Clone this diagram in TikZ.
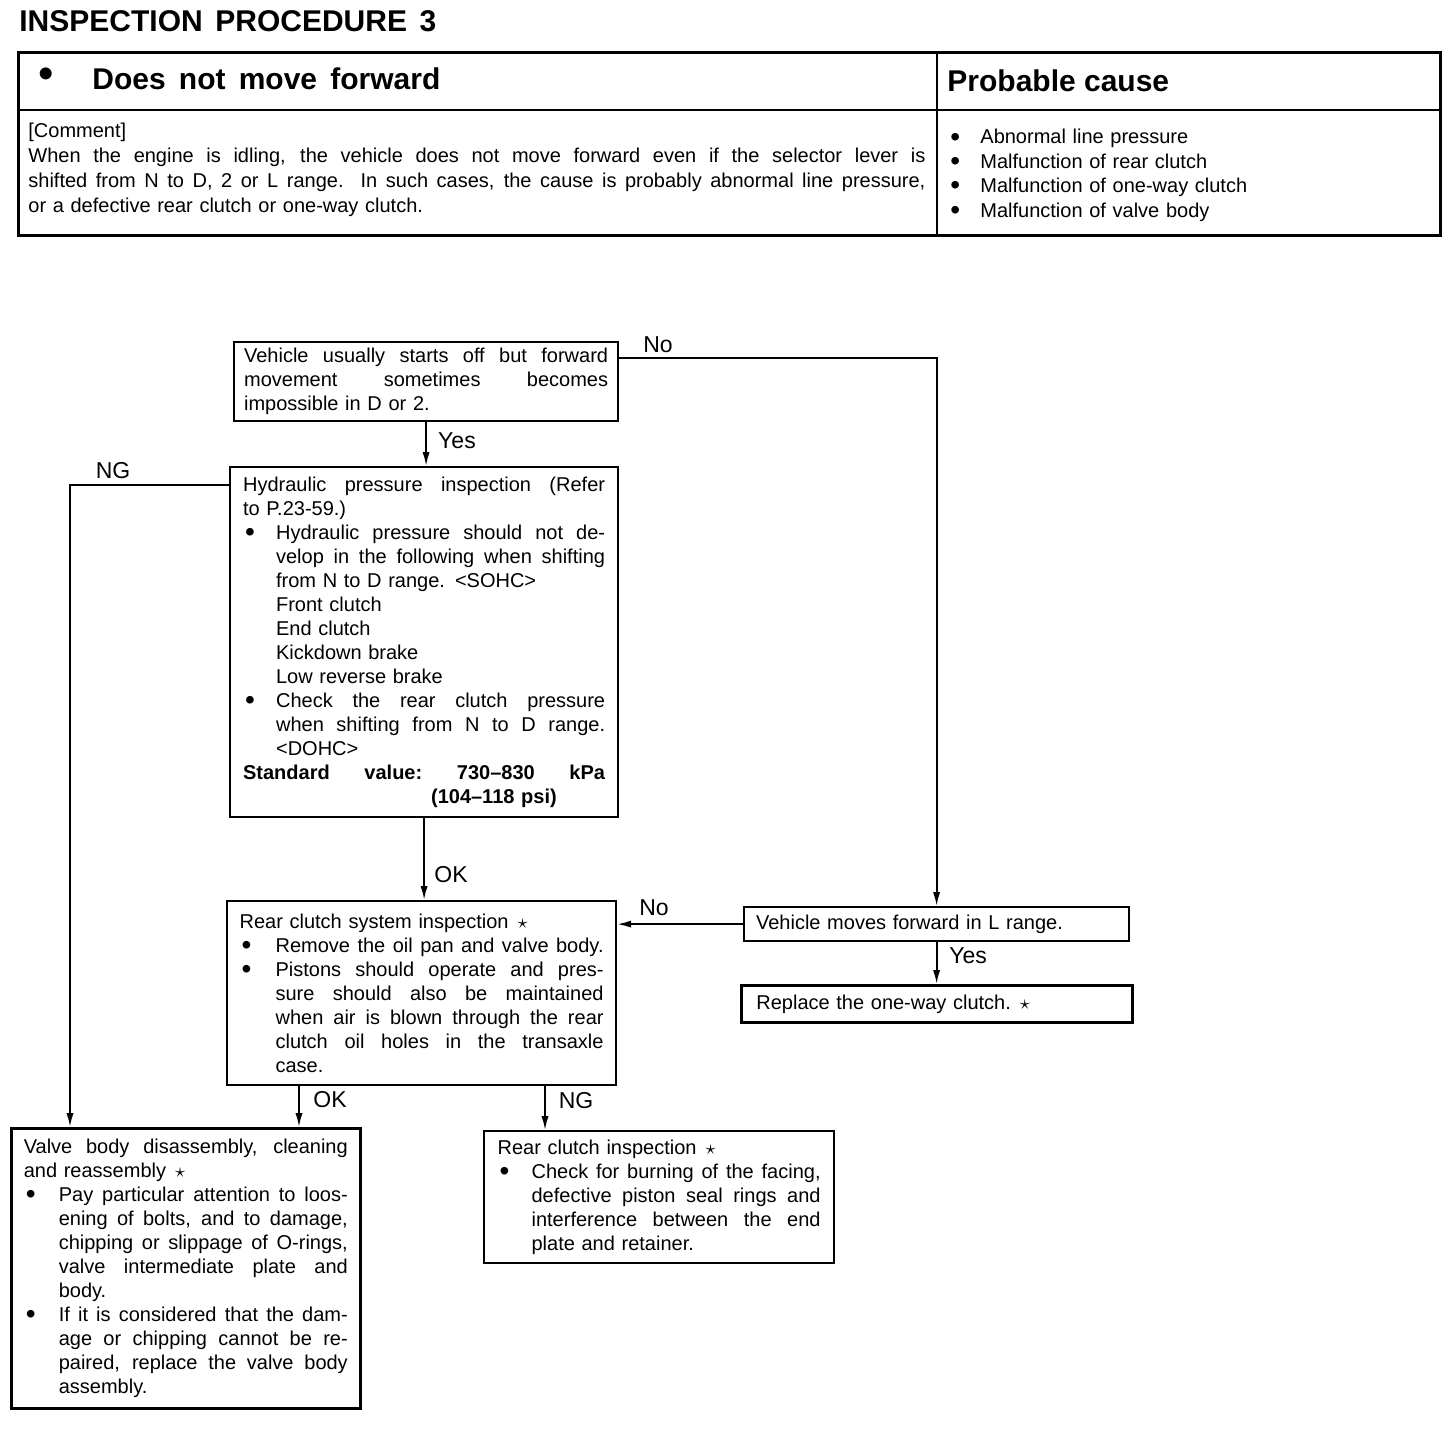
\documentclass[tikz,border=0pt]{standalone}
\usepackage{fontspec}
\setmainfont{Liberation Sans}
\usetikzlibrary{arrows.meta,calc}

\newlength\bind
\newlength\boff
\newlength\tw
\setlength\boff{1pt}
\newcommand\sk{\spaceskip=0.278em plus 1fil\relax\xspaceskip=0.278em plus 1fil\relax}
\newcommand\bul{\smash{\raisebox{-1.1pt}{\fontsize{14}{10}\selectfont\textbullet}}}
\newcommand\lnJ[1]{\noindent{\sk\makebox[\tw][s]{#1}}\par}
\newcommand\lnL[1]{\noindent#1\par}
\newcommand\bJ[1]{\noindent\makebox[\bind][l]{\hspace*{\boff}\bul}{\sk\makebox[\dimexpr\tw-\bind\relax][s]{#1}}\par}
\newcommand\bL[1]{\noindent\makebox[\bind][l]{\hspace*{\boff}\bul}#1\par}
\newcommand\iJ[1]{\noindent\hspace*{\bind}{\sk\makebox[\dimexpr\tw-\bind\relax][s]{#1}}\par}
\newcommand\iL[1]{\noindent\hspace*{\bind}#1\par}
\newcommand\stt{\hspace{4.5pt}$\star$}

\tikzset{
  box/.style={draw, line width=1.1pt, anchor=north west, inner ysep=0pt,
    font=\fontsize{10}{12}\selectfont},
  lab/.style={font=\fontsize{11.5}{13}\selectfont, inner sep=0pt},
  conn/.style={line width=0.9pt, -{Latex[length=7pt,width=3.6pt]}},
  tbl/.style={line width=1.5pt},
}

\begin{document}
\begin{tikzpicture}[x=0.5pt,y=-0.5pt]
\fill[white] (0,0) rectangle (1456,1436);
\useasboundingbox (0,0) rectangle (1456,1436);

% ---- title
\node[anchor=base west, inner sep=0pt, font=\fontsize{15}{18}\selectfont\bfseries] (title) at (19,31)
  {\makebox[208.5pt][s]{INSPECTION PROCEDURE 3}};

% ---- table
\draw[tbl] (18,52) rectangle (1440,235);
\draw[line width=1.2pt] (18,110) -- (1440,110);
\draw[line width=1.2pt] (937,52) -- (937,235);
\node[inner sep=0pt, font=\fontsize{22}{24}\selectfont] (hbul) at (46,78) {\textbullet};
\node[anchor=base west, inner sep=0pt, font=\fontsize{15}{18}\selectfont\bfseries] (hdr) at (92,89)
  {\makebox[174pt][s]{Does not move forward}};
\node[anchor=base west, inner sep=0pt, font=\fontsize{15}{18}\selectfont\bfseries] (pc) at (947,91)
  {Probable cause};
\node[anchor=north west, inner sep=0pt, text width=448.5pt, font=\fontsize{10}{12.5}\selectfont] (cmt) at (28,123)
  {\setlength\tw{448.5pt}%
   \lnL{[Comment]}
   \lnJ{When the engine is idling, the vehicle does not move forward even if the selector lever is}
   \lnJ{shifted from N to D, 2 or L range.\ \ In such cases, the cause is probably abnormal line pressure,}
   \lnL{or a defective rear clutch or one-way clutch.}};
\node[anchor=north west, inner sep=0pt, text width=240pt, font=\fontsize{10}{12.2}\selectfont] (causes) at (950,129)
  {\setlength\bind{15pt}\setlength\boff{0pt}%
   \bL{Abnormal line pressure}
   \bL{Malfunction of rear clutch}
   \bL{Malfunction of one-way clutch}
   \bL{Malfunction of valve body}};

% ---- boxes
\node[box, minimum width=192pt, minimum height=39.5pt, text width=182pt, inner xsep=5pt] (A) at (233,341)
  {\setlength\tw{182pt}%
   \lnJ{Vehicle usually starts off but forward}
   \lnJ{movement sometimes becomes}
   \lnL{impossible in D or 2.}};

\node[box, minimum width=194pt, minimum height=175pt, text width=181pt, inner xsep=6.5pt] (B) at (229,466)
  {\setlength\tw{181pt}\setlength\bind{16.5pt}%
   \lnJ{Hydraulic pressure inspection (Refer}
   \lnL{to P.23-59.)}
   \bJ{Hydraulic pressure should not de-}
   \iJ{velop in the following when shifting}
   \iL{from N to D range. <SOHC>}
   \iL{Front clutch}
   \iL{End clutch}
   \iL{Kickdown brake}
   \iL{Low reverse brake}
   \bJ{Check the rear clutch pressure}
   \iJ{when shifting from N to D range.}
   \iL{<DOHC>}
   \lnJ{\bfseries Standard value: 730–830 kPa}
   \lnL{\bfseries\hspace*{94pt}(104–118 psi)}};

\node[box, minimum width=194.5pt, minimum height=92pt, text width=182pt, inner xsep=6.25pt] (C) at (226,900)
  {\setlength\tw{182pt}\setlength\bind{18pt}%
   \lnL{Rear clutch system inspection\stt}
   \bJ{Remove the oil pan and valve body.}
   \bJ{Pistons should operate and pres-}
   \iJ{sure should also be maintained}
   \iJ{when air is blown through the rear}
   \iJ{clutch oil holes in the transaxle}
   \iL{case.}};

\node[box, minimum width=192.5pt, minimum height=17pt, text width=180.5pt, inner xsep=6pt] (D) at (743,906)
  {\lnL{Vehicle moves forward in L range.}};

\node[box, line width=1.4pt, minimum width=195.5pt, minimum height=18.5pt, text width=180.5pt, inner xsep=7.5pt] (E) at (740,984)
  {\lnL{Replace the one-way clutch.\stt}};

\node[box, line width=1.3pt, minimum width=174.5pt, minimum height=140pt, text width=162pt, inner xsep=6.25pt] (F) at (10,1127)
  {\setlength\tw{162pt}\setlength\bind{17.5pt}%
   \lnJ{Valve body disassembly, cleaning}
   \lnL{and reassembly\stt}
   \bJ{Pay particular attention to loos-}
   \iJ{ening of bolts, and to damage,}
   \iJ{chipping or slippage of O-rings,}
   \iJ{valve intermediate plate and}
   \iL{body.}
   \bJ{If it is considered that the dam-}
   \iJ{age or chipping cannot be re-}
   \iJ{paired, replace the valve body}
   \iL{assembly.}};

\node[box, minimum width=175pt, minimum height=66pt, text width=161.5pt, inner xsep=6.75pt] (G) at (483,1130)
  {\setlength\tw{161.5pt}\setlength\bind{17pt}%
   \lnL{Rear clutch inspection\stt}
   \bJ{Check for burning of the facing,}
   \iJ{defective piston seal rings and}
   \iJ{interference between the end}
   \iL{plate and retainer.}};

% ---- connectors
\coordinate (aN) at ($(A.north east)+(0,17)$);
\draw[conn] (aN) -| (D.north);
\draw[conn] (A.south) -- (A.south |- B.north);
\coordinate (bW) at ($(B.north west)+(0,19)$);
\coordinate (fT) at ($(F.north west)+(60,0)$);
\draw[conn] (bW) -| (fT);
\draw[conn] (B.south) -- (B.south |- C.north);
\draw[conn] (D.west) -- (D.west -| C.east);
\draw[conn] (D.south) -- (D.south |- E.north);
\coordinate (c1) at ($(C.south west)+(73,0)$);
\draw[conn] (c1) -- (c1 |- F.north);
\coordinate (c2) at ($(C.south west)+(319,0)$);
\draw[conn] (c2) -- (c2 |- G.north);

% ---- labels
\node[lab] (lno1) at (658,345) {No};
\node[lab] (lyes1) at (457,441) {Yes};
\node[lab] (lng1) at (113,471) {NG};
\node[lab] (lok1) at (451,875) {OK};
\node[lab] (lno2) at (654,908) {No};
\node[lab] (lyes2) at (968,956) {Yes};
\node[lab] (lok2) at (330,1100) {OK};
\node[lab] (lng2) at (576,1101) {NG};
\end{tikzpicture}
\end{document}
